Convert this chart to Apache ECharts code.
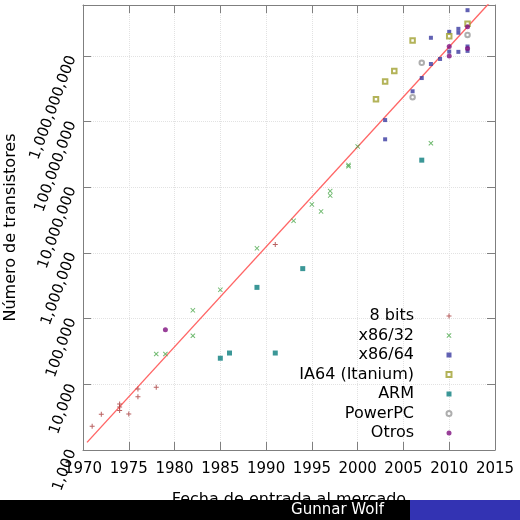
<!DOCTYPE html>
<html>
<head>
<meta charset="utf-8">
<script src="https://cdn.jsdelivr.net/npm/echarts@6/dist/echarts.min.js"></script>
<style>html,body{margin:0;padding:0;background:#fff}#c{width:520px;height:520px}</style>
</head>
<body>
<div id="c"></div>
<script>
// ---- data ----
const xTicks = [1970, 1975, 1980, 1985, 1990, 1995, 2000, 2005, 2010, 2015];
const yTicks = ['1,000', '10,000', '100,000', '1,000,000', '10,000,000', '100,000,000', '1,000,000,000'];

const bits8Years  = [1971, 1972, 1974, 1974, 1974, 1975, 1976, 1976, 1978, 1991];
const bits8Values = [2300, 3500, 5000, 4500, 4000, 3550, 8500, 6500, 9000, 1350000];

const x86_32Years  = [1978, 1979, 1982, 1982, 1985, 1989, 1993, 1995, 1996, 1997, 1997, 1999, 1999, 2000, 2008];
const x86_32Values = [29000, 29000, 134000, 55000, 275000, 1180000, 3100000, 5500000, 4300000, 8800000, 7500000, 22000000, 21000000, 42000000, 47000000];

const x86_64Years  = [2003, 2003, 2006, 2007, 2008, 2008, 2009, 2010, 2010, 2011, 2011, 2011, 2012, 2012, 2012];
const x86_64Values = [106000000, 54000000, 291000000, 463000000, 758000000, 1900000000, 904000000, 2340000000, 1170000000, 2600000000, 2270000000, 1160000000, 5000000000, 1400000000, 1200000000];

const ia64Years  = [2002, 2003, 2004, 2006, 2010, 2012];
const ia64Values = [220000000, 410000000, 592000000, 1720000000, 2000000000, 3100000000];

const armYears  = [1985, 1986, 1989, 1991, 1994, 2007];
const armValues = [25000, 30000, 300000, 30000, 578977, 26000000];

const ppcYears  = [2006, 2007, 2012];
const ppcValues = [237000000, 790000000, 2100000000];

const otrosYears  = [1979, 2010, 2010, 2012, 2012];
const otrosValues = [68000, 1400000000, 1000000000, 2800000000, 1300000000];

const fitYears  = [1970.44, 2015];
const fitValues = [1306, 8000000000];

const seriesNames = ['8 bits', 'x86/32', 'x86/64', 'IA64 (Itanium)', 'ARM', 'PowerPC', 'Otros'];

// ---- chart ----
const zip = (a, b) => a.map((v, i) => [v, b[i]]);
const PLUS = 'path://M-0.5,-2.5 L0.5,-2.5 L0.5,-0.5 L2.5,-0.5 L2.5,0.5 L0.5,0.5 L0.5,2.5 L-0.5,2.5 L-0.5,0.5 L-2.5,0.5 L-2.5,-0.5 L-0.5,-0.5 Z';
const CROSS = 'path://M-2,-2.7 L0,-0.7 L2,-2.7 L2.7,-2 L0.7,0 L2.7,2 L2,2.7 L0,0.7 L-2,2.7 L-2.7,2 L-0.7,0 L-2.7,-2 Z';
const FONT = 'DejaVu Sans';
const AX = '#7f7f7f';
const GRID = '#e2e2e2';

function sc(name, years, values, symbol, color, extra) {
  return Object.assign({
    name: name, type: 'scatter', data: zip(years, values),
    symbol: symbol, symbolSize: 5,
    itemStyle: { color: color },
    xAxisIndex: 0, yAxisIndex: 0, z: 5
  }, extra || {});
}

const chart = echarts.init(document.getElementById('c'), null, { renderer: 'canvas' });
chart.setOption({
  animation: false,
  backgroundColor: '#fff',
  textStyle: { fontFamily: FONT },
  grid: { left: 83, right: 25, top: 5, bottom: 70, outerBoundsMode: 'none', containLabel: false },
  xAxis: [{
    type: 'value', min: xTicks[0], max: xTicks[xTicks.length - 1], interval: 5,
    position: 'bottom',
    name: 'Fecha de entrada al mercado', nameLocation: 'middle', nameGap: 42,
    nameTextStyle: { fontSize: 16, color: '#000', fontFamily: FONT },
    axisLine: { show: true, lineStyle: { color: AX, width: 1 } },
    axisTick: { show: true, inside: true, length: 8, lineStyle: { color: AX } },
    axisLabel: { fontSize: 15, color: '#000', margin: 12, fontFamily: FONT, formatter: v => String(v) },
    splitLine: { show: true, lineStyle: { color: GRID, type: 'dotted', width: 1 } }
  }, {
    type: 'value', min: xTicks[0], max: xTicks[xTicks.length - 1], interval: 5,
    position: 'top',
    axisLine: { show: true, lineStyle: { color: AX, width: 1 } },
    axisTick: { show: true, inside: true, length: 8, lineStyle: { color: AX } },
    axisLabel: { show: false }, splitLine: { show: false }
  }],
  yAxis: [{
    type: 'log', logBase: 10, min: 1000, max: 6000000000, splitNumber: 7,
    position: 'left',
    name: 'Número de transistores', nameLocation: 'middle', nameGap: 57,
    nameTextStyle: { fontSize: 16, color: '#000', fontFamily: FONT },
    axisLine: { show: true, lineStyle: { color: AX, width: 1 } },
    axisTick: { show: true, inside: true, length: 8, lineStyle: { color: AX } },
    axisLabel: {
      fontSize: 15, color: '#000', rotate: 70, margin: 11, fontFamily: FONT,
      showMaxLabel: false,
      formatter: function (v) {
        const e = Math.round(Math.log10(v));
        if (Math.abs(Math.log10(v) - e) > 1e-6) return '';
        return yTicks[e - 3] || '';
      }
    },
    splitLine: { show: true, lineStyle: { color: GRID, type: 'dotted', width: 1 } }
  }, {
    type: 'log', logBase: 10, min: 1000, max: 6000000000, splitNumber: 7,
    position: 'right',
    axisLine: { show: true, lineStyle: { color: AX, width: 1 } },
    axisTick: { show: true, inside: true, length: 8, lineStyle: { color: AX } },
    axisLabel: { show: false }, splitLine: { show: false }
  }],
  legend: {
    orient: 'vertical', align: 'right', right: 67.5, top: 308,
    itemWidth: 5, itemHeight: 5, itemGap: 3.5, padding: 0,
    selectedMode: false,
    data: seriesNames,
    itemStyle: { borderWidth: 0.8 },
    textStyle: { fontSize: 16, color: '#000', fontFamily: FONT, lineHeight: 16, padding: [0, 27.5, 0, 0] }
  },
  series: [
    {
      name: 'fit', type: 'line', data: zip(fitYears, fitValues),
      showSymbol: false, symbol: 'none', clip: true,
      lineStyle: { color: '#ff6666', width: 1.4 }, z: 3, silent: true
    },
    sc(seriesNames[0], bits8Years, bits8Values, PLUS, '#a83a3a'),
    sc(seriesNames[1], x86_32Years, x86_32Values, CROSS, '#4aa84a'),
    sc(seriesNames[2], x86_64Years, x86_64Values, 'rect', '#3a3aa0', { symbolSize: 4 }),
    sc(seriesNames[3], ia64Years, ia64Values, 'emptyRect', '#a0a030', { symbolSize: 4.5, itemStyle: { color: '#a0a030', borderWidth: 0.8 } }),
    sc(seriesNames[4], armYears, armValues, 'rect', '#0a7d7d'),
    sc(seriesNames[5], ppcYears, ppcValues, 'emptyCircle', '#9a9a9a', { symbolSize: 4.5, itemStyle: { color: '#9a9a9a', borderWidth: 0.8 } }),
    sc(seriesNames[6], otrosYears, otrosValues, 'circle', '#80107f')
  ],
  graphic: [
    { type: 'rect', left: 0, top: 500, z: 100, shape: { width: 410, height: 20 }, style: { fill: '#000' } },
    { type: 'rect', left: 410, top: 500, z: 100, shape: { width: 110, height: 20 }, style: { fill: '#3333b3' } },
    { type: 'text', x: 337.5, y: 510, z: 101, style: { text: 'Gunnar Wolf', fill: '#fff', font: '15px "DejaVu Sans"', align: 'center', verticalAlign: 'middle' } }
  ]
});
</script>
</body>
</html>
